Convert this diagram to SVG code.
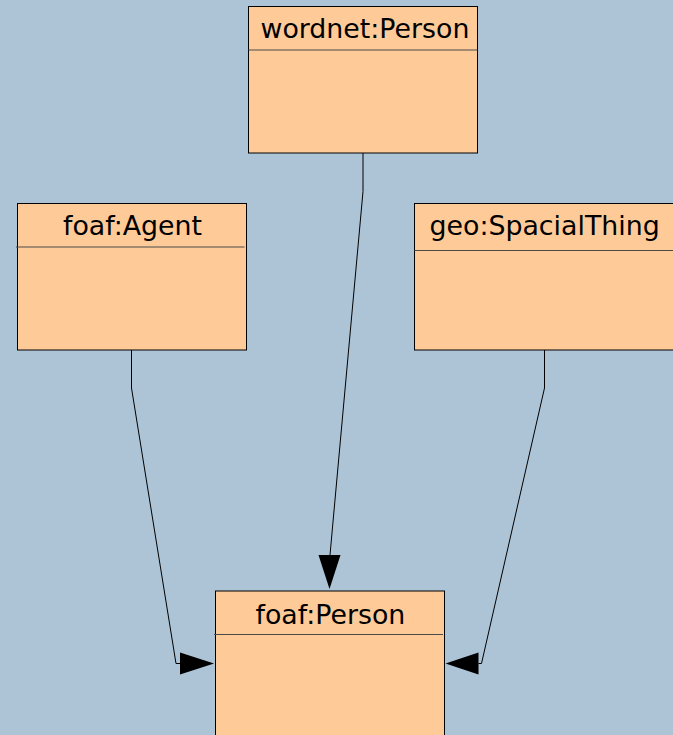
<svg xmlns="http://www.w3.org/2000/svg" width="673" height="735" viewBox="0 0 673 735">
<style>
.box{fill:#fecb98;stroke:#000;stroke-width:1}
.div{stroke:#4a4a4a;stroke-width:1.2}
.lbl{font-family:"DejaVu Sans",sans-serif;font-size:26.8px;fill:#000}
.edge{fill:none;stroke:#000;stroke-width:1}
.head{fill:#000}
</style>
<rect width="673" height="735" fill="#adc4d7"/>
<g id="wordnet-person">
<rect class="box" x="248.5" y="6.5" width="229" height="146.5"/>
<line class="div" x1="248.5" y1="50" x2="477.5" y2="50"/>
<text class="lbl" x="260.5" y="37.5">wordnet:Person</text>
</g>
<g id="foaf-agent">
<rect class="box" x="17.5" y="203.5" width="229" height="146.5"/>
<line class="div" x1="16" y1="247" x2="244.5" y2="247"/>
<text class="lbl" x="63" y="234.5">foaf:Agent</text>
</g>
<g id="geo-spacialthing">
<rect class="box" x="414.5" y="203.5" width="270" height="146.5"/>
<line class="div" x1="414.5" y1="250.5" x2="673" y2="250.5"/>
<text class="lbl" x="429.5" y="235">geo:SpacialThing</text>
</g>
<g id="foaf-person">
<rect class="box" x="215.5" y="591" width="229" height="160"/>
<line class="div" x1="214" y1="634.5" x2="443" y2="634.5"/>
<text class="lbl" x="255.5" y="623.5">foaf:Person</text>
</g>
<g id="connectors">
<polyline class="edge" points="363,153 363,191.5 330,555"/>
<polygon class="head" points="318.5,555 340.5,555 329.5,589"/>
<polyline class="edge" points="131.5,350 131.5,388 176,663.5 180,663.5"/>
<polygon class="head" points="180,652.5 180,674.5 214,663.5"/>
<polyline class="edge" points="544.5,350 544.5,388 481.5,663.5 478.5,663.5"/>
<polygon class="head" points="478.5,652.5 478.5,674.5 445.5,663.5"/>
</g>
</svg>
